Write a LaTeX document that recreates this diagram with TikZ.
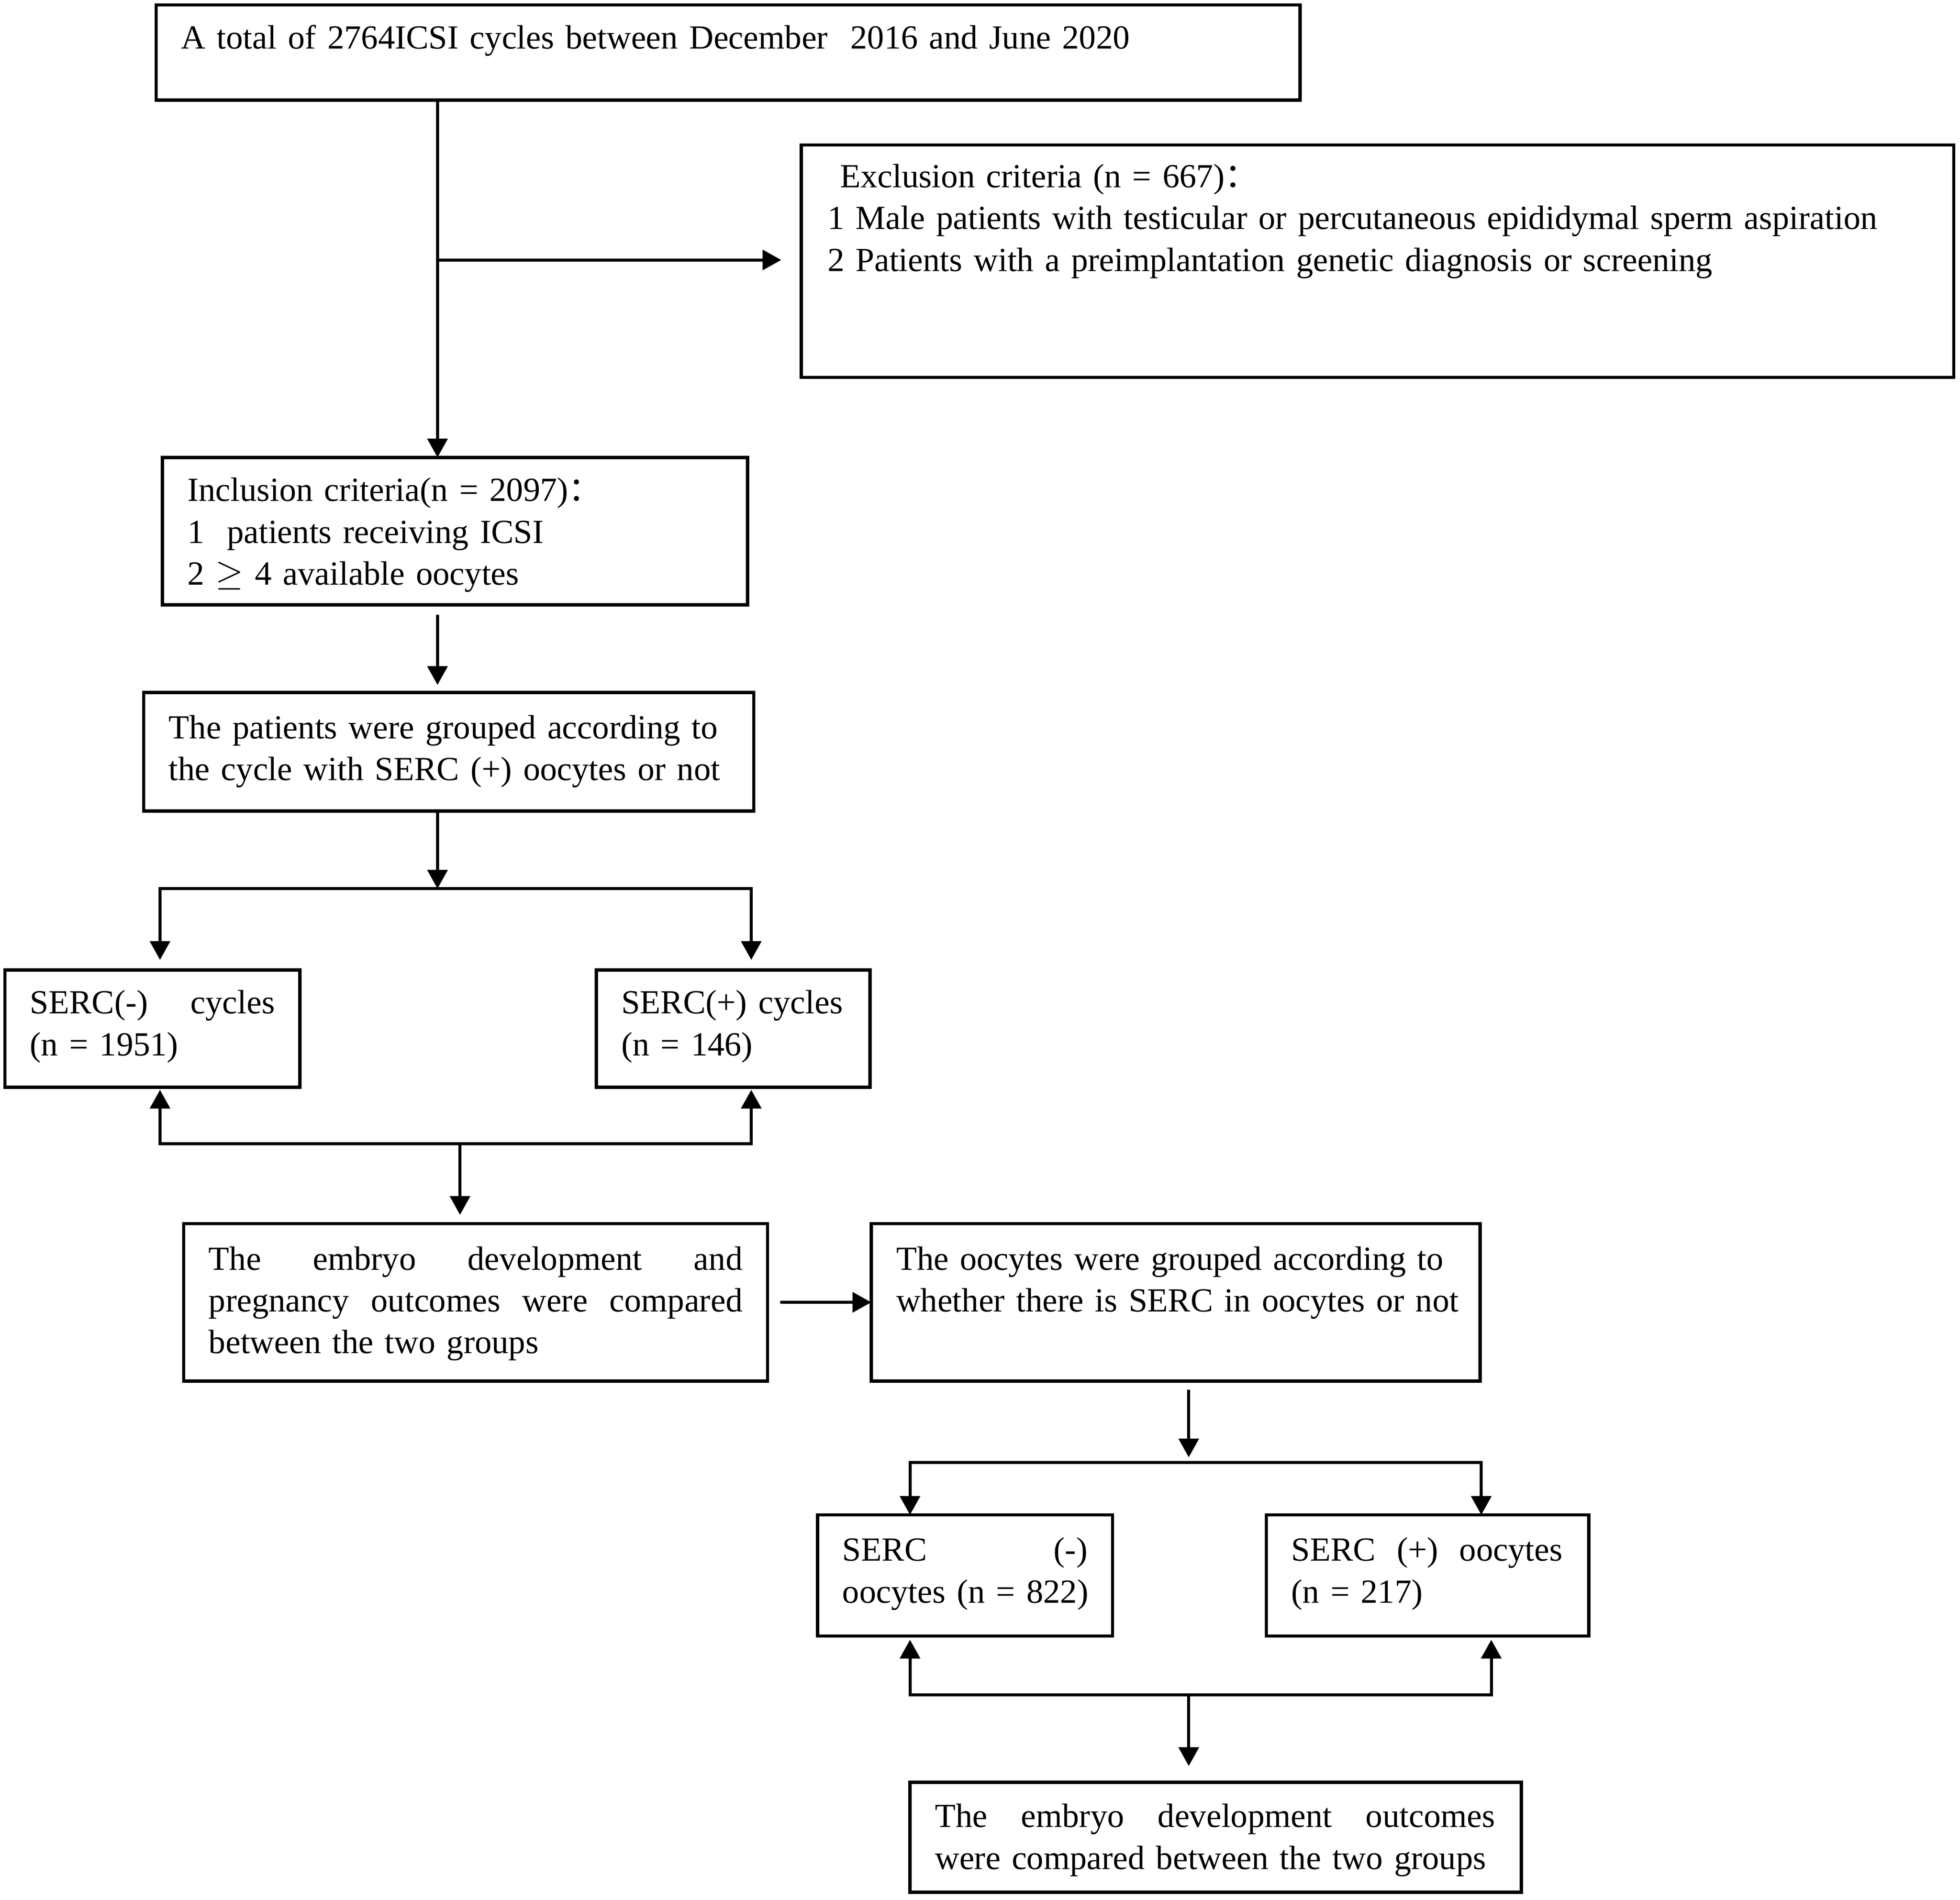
\documentclass[tikz,border=0pt]{standalone}
\usepackage{fontspec}
\setmainfont{Liberation Serif}
\newfontfamily\cjkfont{Noto Sans CJK SC}
\usetikzlibrary{arrows.meta}
\newcommand\jline[2]{\leavevmode\hbox to #1{#2}}
\begin{document}
\begin{tikzpicture}[x=0.5pt,y=-0.5pt]
\tikzset{
 box/.style={draw, line width=1.3pt, inner sep=0pt, outer sep=0pt},
 txt/.style={anchor=base west, inner sep=0pt, outer sep=0pt, align=left, font=\fontsize{13.5pt}{16.75pt}\selectfont},
 arr/.style={line width=1.2pt, -{Triangle[length=7.5pt,width=8pt]}},
 ln/.style={line width=1.2pt, line cap=rect},
}
\fill[white] (0,0) rectangle (1568,1520);
\useasboundingbox (0,0) rectangle (1568,1520);

% boxes
\node[box, minimum width=457.5pt, minimum height=38pt] (b1) at (582.5,42) {};
\node[box, minimum width=461pt, minimum height=93pt] (b2) at (1102,209) {};
\node[box, minimum width=234pt, minimum height=59pt] (b3) at (364,425) {};
\node[box, minimum width=244pt, minimum height=47.5pt] (b4) at (359,601.5) {};
\node[box, minimum width=118pt, minimum height=47pt] (b5) at (122,823) {};
\node[box, minimum width=109.5pt, minimum height=47pt] (b6) at (586.5,823) {};
\node[box, minimum width=233.5pt, minimum height=63pt] (b7) at (380.5,1042) {};
\node[box, minimum width=243.5pt, minimum height=63pt] (b8) at (940.5,1042) {};
\node[box, minimum width=118pt, minimum height=48.5pt] (b9) at (772,1260.5) {};
\node[box, minimum width=129pt, minimum height=48.5pt] (b10) at (1142,1260.5) {};
\node[box, minimum width=244.5pt, minimum height=44pt] (b11) at (972.5,1470) {};

% texts
\node[txt, text width=440pt] (t1) at (145,39) {A total of 2764ICSI cycles between December\ \ 2016 and June 2020};
\node[txt, text width=450pt] (t2) at (662,150) {\hspace*{5pt}Exclusion criteria (n = 667){\cjkfont ：}\\1 Male patients with testicular or percutaneous epididymal sperm aspiration\\2 Patients with a preimplantation genetic diagnosis or screening};
\node[txt, text width=220pt] (t3) at (150,401) {Inclusion criteria(n = 2097){\cjkfont ：}\\1\ \ patients receiving ICSI\\2 $\geq$ 4 available oocytes};
\node[txt, text width=236pt] (t4) at (135,591) {The patients were grouped according to\\the cycle with SERC (+) oocytes or not};
\node[txt, text width=110pt] (t5) at (24,811) {\jline{98pt}{SERC(-)\hfill cycles}\\(n = 1951)};
\node[txt, text width=100pt] (t6) at (497,811) {SERC(+) cycles\\(n = 146)};
\node[txt, text width=220pt] (t7) at (167,1016) {\jline{213.5pt}{The\hfill embryo\hfill development\hfill and}\\\jline{213.5pt}{pregnancy\hfill outcomes\hfill were\hfill compared}\\between the two groups};
\node[txt, text width=236pt] (t8) at (717,1016) {The oocytes were grouped according to\\whether there is SERC in oocytes or not};
\node[txt, text width=110pt] (t9) at (674,1249) {\jline{98pt}{SERC\hfill (-)}\\oocytes (n = 822)};
\node[txt, text width=120pt] (t10) at (1033,1249) {\jline{108.5pt}{SERC\hfill (+)\hfill oocytes}\\(n = 217)};
\node[txt, text width=236pt] (t11) at (748,1462) {\jline{224pt}{The\hfill embryo\hfill development\hfill outcomes}\\were compared between the two groups};

% junction coordinates
\coordinate (j1) at (350,208);
\coordinate (s1) at (350,711);
\coordinate (s1l) at (128,711);
\coordinate (s1r) at (601,711);
\coordinate (m1) at (368,915);
\coordinate (m1l) at (128,915);
\coordinate (m1r) at (601,915);
\coordinate (s2) at (951,1170);
\coordinate (s2l) at (728,1170);
\coordinate (s2r) at (1185,1170);
\coordinate (m2) at (951,1356);
\coordinate (m2l) at (728,1356);
\coordinate (m2r) at (1193,1356);

% connectors
\draw[arr] (b1.south -| j1) -- (b3.north -| j1);
\draw[arr, shorten >=8pt] (j1) -- (b2.west |- j1);
\draw[arr, shorten <=4pt, shorten >=3pt] (b3.south -| j1) -- (b4.north -| j1);
\draw[arr] (b4.south -| s1) -- (s1);
\draw[ln] (s1l) -- (s1r);
\draw[arr, shorten >=4pt] (s1l) -- (b5.north -| s1l);
\draw[arr, shorten >=4pt] (s1r) -- (b6.north -| s1r);
\draw[ln] (m1l) -- (m1r);
\draw[arr, shorten >=1pt] (m1l) -- (b5.south -| m1l);
\draw[arr, shorten >=1pt] (m1r) -- (b6.south -| m1r);
\draw[arr, shorten >=3.5pt] (m1) -- (b7.north -| m1);
\draw[arr, shorten <=5pt] (b7.east) -- (b8.west);
\draw[arr, shorten <=3.5pt, shorten >=2pt] (b8.south -| s2) -- (s2);
\draw[ln] (s2l) -- (s2r);
\draw[arr] (s2l) -- (b9.north -| s2l);
\draw[arr] (s2r) -- (b10.north -| s2r);
\draw[ln] (m2l) -- (m2r);
\draw[arr, shorten >=1.5pt] (m2l) -- (b9.south -| m2l);
\draw[arr, shorten >=1.5pt] (m2r) -- (b10.south -| m2r);
\draw[arr, shorten >=6.5pt] (m2) -- (b11.north -| m2);
\end{tikzpicture}
\end{document}
